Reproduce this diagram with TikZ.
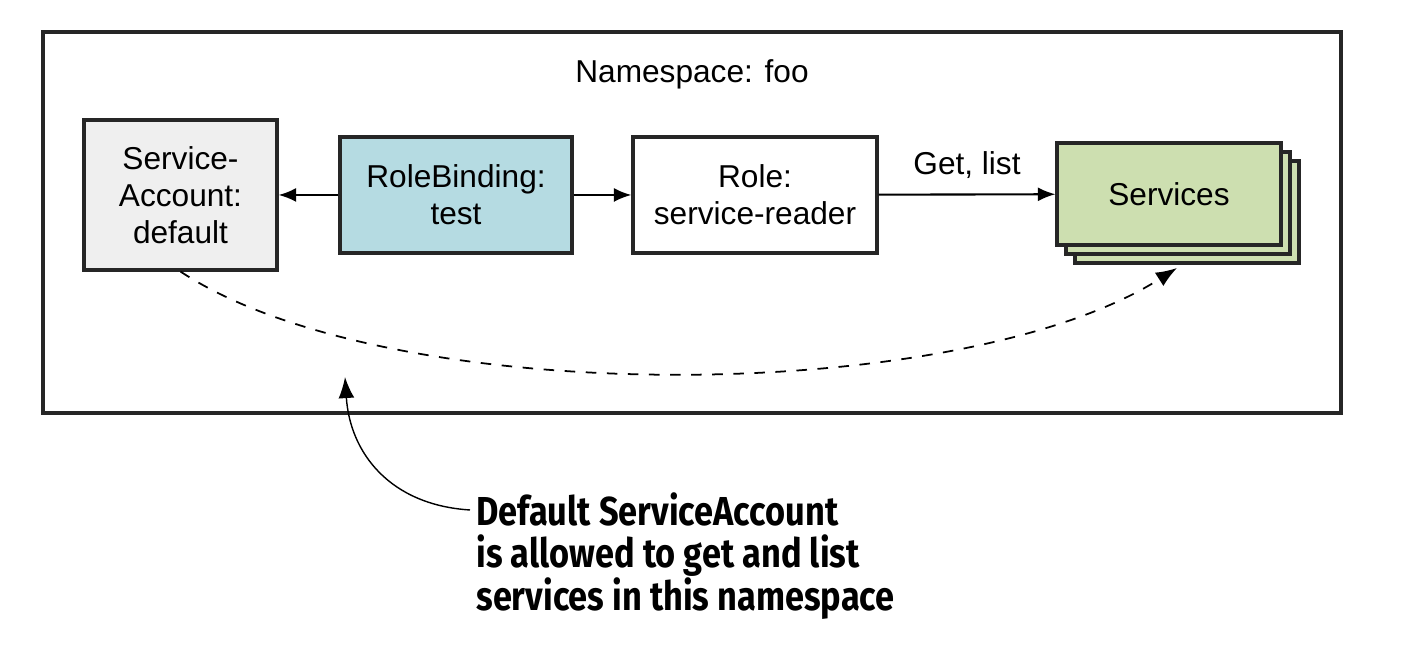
\documentclass[tikz,border=0pt]{standalone}
\usepackage{fontspec}
\setmainfont{Liberation Sans}
\newfontfamily\calloutfont[FakeStretch=0.85]{Fira Sans}
\usetikzlibrary{arrows.meta}

\definecolor{sagray}{RGB}{239,239,239}
\definecolor{rbblue}{RGB}{181,219,226}
\definecolor{svcgreen}{RGB}{205,223,176}

\tikzset{
    box/.style={draw=black!85, line width=0.9pt, align=center, inner sep=0pt,
        font=\fontsize{9}{10.5}\selectfont},
    link/.style={-{Latex[length=5pt,width=4pt]}, line width=0.6pt},
}

\begin{document}
\begin{tikzpicture}
    \useasboundingbox (0,0) rectangle (14.06,6.48);
    % Draw namespace frame
    \draw[black!85, line width=0.9pt] (0.43,2.35) rectangle (13.41,6.16);
    \node[font=\fontsize{9}{10.5}\selectfont] (ns) at (6.92,5.74) {Namespace: foo};
    % Draw the boxes
    \node[box, fill=sagray, minimum width=1.93cm, minimum height=1.50cm] (sa) at (1.805,4.53) {Service-\\Account:\\default};
    \node[box, fill=rbblue, minimum width=2.32cm, minimum height=1.16cm] (rb) at (4.56,4.53) {RoleBinding:\\test};
    \node[box, fill=white, minimum width=2.44cm, minimum height=1.16cm] (role) at (7.55,4.53) {Role:\\service-reader};
    % Draw services stack
    \node[box, fill=svcgreen, minimum width=2.24cm, minimum height=1.02cm] (svc3) at (11.87,4.36) {};
    \node[box, fill=svcgreen, minimum width=2.24cm, minimum height=1.02cm] (svc2) at (11.78,4.45) {};
    \node[box, fill=svcgreen, minimum width=2.24cm, minimum height=1.02cm] (svc) at (11.69,4.54) {Services};
    % Draw arrows
    \draw[link] (rb) -- (sa); % binds account
    \draw[link] (rb) -- (role); % binds role
    \draw[link] (role) -- (svc) node[midway, above=1pt, font=\fontsize{9}{10.5}\selectfont] (verbs) {Get, list};
    % Draw access path
    \coordinate (svcin) at (11.77,3.80);
    \draw[-{Latex[length=6pt,width=4.5pt]}, dashed, line width=0.5pt] (sa.south) .. controls (3.9,2.38) and (9.6,2.42) .. (svcin);
    % Draw callout
    \node[anchor=west, align=left, font={\calloutfont\bfseries\fontsize{11.5}{12.2}\selectfont}] (note) at (4.64,0.92)
        {Default ServiceAccount\\is allowed to get and list\\services in this namespace};
    \coordinate (tail) at (4.70,1.38);
    \coordinate (tip) at (3.45,2.71);
    \draw[-{Latex[length=6pt,width=4.5pt]}, line width=0.4pt] (tail) .. controls (3.9,1.43) and (3.5,1.95) .. (tip);
\end{tikzpicture}
\end{document}
